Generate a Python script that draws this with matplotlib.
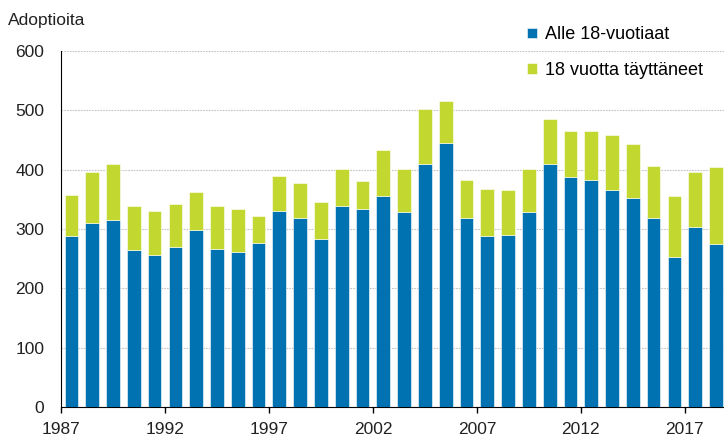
import numpy as np
import matplotlib.pyplot as plt

plt.rcParams['font.family'] = ['Liberation Sans', 'DejaVu Sans']

years = list(range(1987, 2019))
alle_18 = [288, 310, 315, 264, 256, 269, 299, 266, 261, 277, 331, 318, 283, 339, 334, 356,
           329, 410, 445, 318, 288, 290, 329, 410, 388, 383, 366, 353, 318, 253, 304, 274]
totals = [358, 396, 410, 339, 331, 342, 363, 339, 334, 322, 390, 377, 345, 401, 381, 434,
          401, 502, 515, 382, 368, 366, 401, 485, 466, 466, 458, 444, 407, 355, 396, 404]
yli_18 = [t - a for t, a in zip(totals, alle_18)]
tick_years = [1987, 1992, 1997, 2002, 2007, 2012, 2017]

blue = '#0072b1'
green = '#c2d730'

fig = plt.figure(figsize=(7.24, 4.4), dpi=100)
ax = fig.add_axes([0.0843, 0.075, 0.919, 0.809])

x = np.arange(len(years))
ax.bar(x, alle_18, width=0.66, color=blue, edgecolor='white', linewidth=0.4,
       label='Alle 18-vuotiaat', zorder=3)
ax.bar(x, yli_18, width=0.66, bottom=alle_18, color=green, edgecolor='white', linewidth=0.4,
       label='18 vuotta täyttäneet', zorder=3)

ax.set_xlim(-0.5, len(years) - 0.5)
ax.set_ylim(0, 600)
ax.set_yticks(range(0, 601, 100))
ax.set_xticks([years.index(y) - 0.5 for y in tick_years])
ax.set_xticklabels([str(y) for y in tick_years])
ax.tick_params(axis='y', length=0, labelsize=12.5, pad=12, colors='#222222')
ax.tick_params(axis='x', length=4.5, width=1, labelsize=12.5, labelcolor='#222222', pad=6)

ax.yaxis.grid(True, color='#c4c4c4', linestyle=(0, (1.5, 1)), linewidth=0.8, zorder=0)
for s in ['top', 'right']:
    ax.spines[s].set_visible(False)
ax.spines['left'].set_color('black')
ax.spines['bottom'].set_color('black')

fig.text(0.011, 0.953, 'Adoptioita', fontsize=12.5, color='#222222', va='center')

leg = ax.legend(loc='upper left', bbox_to_anchor=(0.676, 1.115), frameon=False,
                handlelength=0.55, handleheight=0.55, handletextpad=0.45,
                labelspacing=1.05, fontsize=13)

fig.savefig('out.png', dpi=100)
